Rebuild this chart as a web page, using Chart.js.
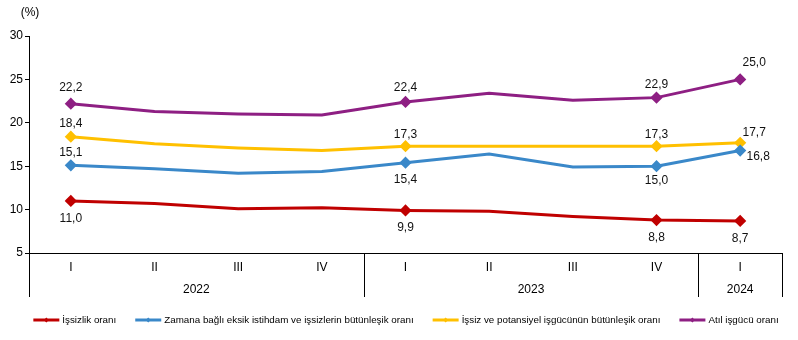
<!DOCTYPE html>
<html>
<head>
<meta charset="utf-8">
<script src="https://cdn.jsdelivr.net/npm/chart.js@4/dist/chart.umd.min.js"></script>
<style>
  html, body { margin: 0; padding: 0; background: #fff; }
  #wrap { width: 798px; height: 340px; }
</style>
</head>
<body>
<div id="wrap"><canvas id="chart"></canvas></div>
<script>
// quarters and years
const quarters = ["I", "II", "III", "IV", "I", "II", "III", "IV", "I"];
const years = [
  { label: "2022", from: 0, to: 3 },
  { label: "2023", from: 4, to: 7 },
  { label: "2024", from: 8, to: 8 }
];

// series values (%)
const issizlik = [11.0, 10.7, 10.1, 10.2, 9.9, 9.8, 9.2, 8.8, 8.7];
const zamanaBagli = [15.1, 14.7, 14.2, 14.4, 15.4, 16.4, 14.9, 15.0, 16.8];
const potansiyel = [18.4, 17.6, 17.1, 16.8, 17.3, 17.3, 17.3, 17.3, 17.7];
const atil = [22.2, 21.3, 21.0, 20.9, 22.4, 23.4, 22.6, 22.9, 25.0];

const yTicks = [5, 10, 15, 20, 25, 30];

// points that carry a marker and a value label
const labelled = [0, 4, 7, 8];

const FONT = "Arial, 'Liberation Sans', sans-serif";

function pointRadius(ctx) {
  return labelled.includes(ctx.dataIndex) ? 4 : 0;
}

function makeSet(label, data, color, offsets) {
  return {
    label: label,
    data: data,
    borderColor: color,
    backgroundColor: color,
    borderWidth: 3,
    tension: 0,
    pointStyle: "rectRot",
    pointRadius: pointRadius,
    pointHoverRadius: pointRadius,
    pointBackgroundColor: color,
    pointBorderColor: color,
    labelOffsets: offsets
  };
}

// value labels: offsets (dx, dy) for each labelled point
const valueLabels = {
  id: "valueLabels",
  afterDatasetsDraw(chart) {
    const c = chart.ctx;
    c.save();
    c.font = "12px " + FONT;
    c.fillStyle = "#111";
    c.textAlign = "center";
    c.textBaseline = "middle";
    chart.data.datasets.forEach((ds, di) => {
      const meta = chart.getDatasetMeta(di);
      labelled.forEach((idx, k) => {
        const pt = meta.data[idx];
        const off = ds.labelOffsets[k];
        c.fillText(ds.data[idx].toFixed(1).replace(".", ","), pt.x + off[0], pt.y + off[1]);
      });
    });
    c.restore();
  }
};

// year row, separators and unit label
const yearAxis = {
  id: "yearAxis",
  afterDraw(chart) {
    const c = chart.ctx;
    const xs = chart.scales.x;
    const area = chart.chartArea;
    const bottom = area.bottom + 44;
    c.save();
    c.strokeStyle = "#000";
    c.lineWidth = 1;
    const edges = [area.left];
    years.forEach(y => {
      if (y.to < quarters.length - 1) {
        edges.push((xs.getPixelForValue(y.to) + xs.getPixelForValue(y.to + 1)) / 2);
      }
    });
    edges.push(area.right);
    c.beginPath();
    edges.forEach(x => {
      const px = Math.round(x) + 0.5;
      c.moveTo(px, area.bottom);
      c.lineTo(px, bottom);
    });
    c.stroke();

    c.fillStyle = "#000";
    c.font = "12px " + FONT;
    c.textAlign = "center";
    c.textBaseline = "middle";
    years.forEach(y => {
      const mid = (xs.getPixelForValue(y.from) + xs.getPixelForValue(y.to)) / 2;
      c.fillText(y.label, mid, area.bottom + 37);
    });
    c.fillText("(%)", 30, 13);
    c.restore();
  }
};

// one-row legend: short line with a small diamond, then the text
const lineLegend = {
  id: "lineLegend",
  afterDraw(chart) {
    const c = chart.ctx;
    const sets = chart.data.datasets;
    const lineW = 26, textGap = 3, itemGap = 19, y = 320;
    c.save();
    c.font = "9.8px " + FONT;
    c.textBaseline = "middle";
    const widths = sets.map(ds => c.measureText(ds.label).width);
    const total = widths.reduce((a, b) => a + b, 0) + sets.length * (lineW + textGap) + (sets.length - 1) * itemGap;
    let x = 406 - total / 2;
    sets.forEach((ds, i) => {
      c.strokeStyle = ds.borderColor;
      c.fillStyle = ds.borderColor;
      c.lineWidth = 3;
      c.beginPath();
      c.moveTo(x, y);
      c.lineTo(x + lineW, y);
      c.stroke();
      const mx = x + lineW / 2;
      c.beginPath();
      c.moveTo(mx, y - 2.5);
      c.lineTo(mx + 2.5, y);
      c.lineTo(mx, y + 2.5);
      c.lineTo(mx - 2.5, y);
      c.closePath();
      c.fill();
      c.fillStyle = "#000";
      c.fillText(ds.label, x + lineW + textGap, y);
      x += lineW + textGap + widths[i] + itemGap;
    });
    c.restore();
  }
};

new Chart(document.getElementById("chart").getContext("2d"), {
  type: "line",
  data: {
    labels: quarters,
    datasets: [
      makeSet("İşsizlik oranı", issizlik, "#C00000", [[0, 18], [0, 17], [0, 18], [0, 18]]),
      makeSet("Zamana bağlı eksik istihdam ve işsizlerin bütünleşik oranı", zamanaBagli, "#3A88C9", [[0, -13], [0, 17], [0, 14], [18, 6]]),
      makeSet("İşsiz ve potansiyel işgücünün bütünleşik oranı", potansiyel, "#FFC000", [[0, -13], [0, -12], [0, -12], [14, -10]]),
      makeSet("Atıl işgücü oranı", atil, "#8E1F83", [[0, -16], [0, -14], [0, -13], [14, -17]])
    ]
  },
  options: {
    responsive: true,
    maintainAspectRatio: false,
    animation: false,
    layout: { padding: { top: 36, right: 16, left: 0, bottom: 43 } },
    plugins: {
      legend: { display: false },
      tooltip: { enabled: false }
    },
    scales: {
      x: {
        offset: true,
        grid: { display: false, drawTicks: false },
        border: { display: true, color: "#000", width: 1 },
        ticks: { color: "#000", padding: 7, font: { size: 12, family: FONT }, maxRotation: 0 },
        afterFit(scale) { scale.height = 44; }
      },
      y: {
        min: 5,
        max: 30,
        afterBuildTicks(scale) { scale.ticks = yTicks.map(v => ({ value: v })); },
        grid: { display: true, drawOnChartArea: false, drawTicks: true, tickLength: 4, color: "#000" },
        border: { display: true, color: "#000", width: 1 },
        ticks: { color: "#000", padding: 2, font: { size: 12, family: FONT } },
        afterFit(scale) { scale.width = 29; }
      }
    }
  },
  plugins: [valueLabels, yearAxis, lineLegend]
});
</script>
</body>
</html>
